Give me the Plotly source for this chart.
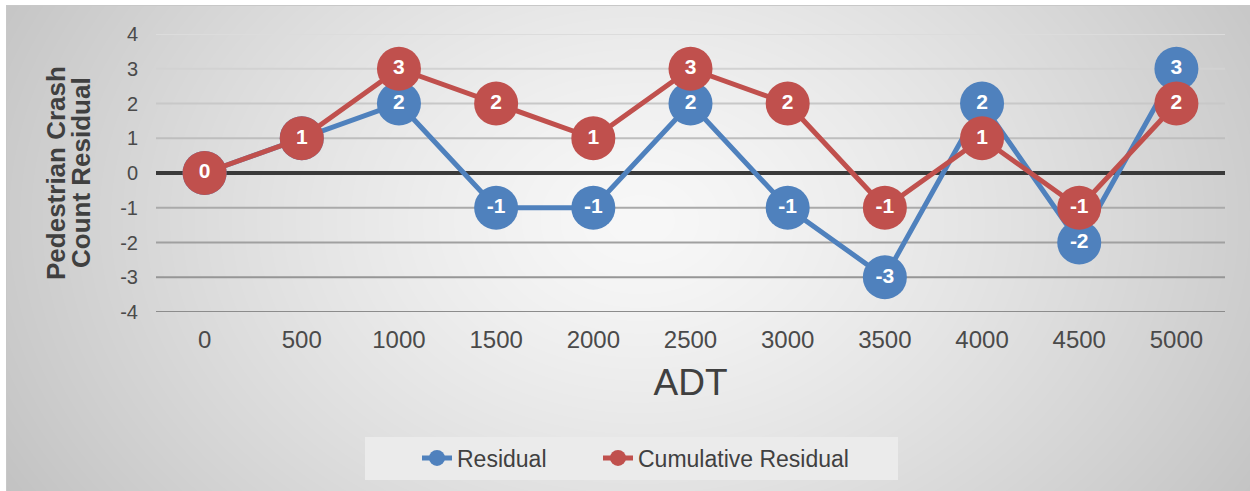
import base64
import struct
import zlib

import numpy as np
import plotly.graph_objects as go

# ---- data ----
adt = ["0", "500", "1000", "1500", "2000", "2500", "3000", "3500", "4000", "4500", "5000"]
residual = [0, 1, 2, -1, -1, 2, -1, -3, 2, -2, 3]
cumulative = [0, 1, 3, 2, 1, 3, 2, -1, 1, -1, 2]
y_ticks = [-4, -3, -2, -1, 0, 1, 2, 3, 4]
y_ticktext = ["-4", "-3", "-2", "-1", "0", "1", "2", "3", "4"]

BLUE = "#4f81bd"
RED = "#c0504d"
TEXT = "#404040"
FONT = "Liberation Sans, Arial, sans-serif"

W, H = 1250, 491
M = dict(l=156, r=25, t=34, b=179)
PW = W - M["l"] - M["r"]
PH = H - M["t"] - M["b"]


def px_x(px):
    return (px - M["l"]) / PW


def px_y(py):
    return 1 - (py - M["t"]) / PH


def png_data_uri(gray):
    """Encode a 2-D uint8 array as a grayscale PNG data URI."""
    h, w = gray.shape
    raw = b"".join(b"\x00" + gray[i].tobytes() for i in range(h))

    def chunk(tag, data):
        c = struct.pack(">I", len(data)) + tag + data
        return c + struct.pack(">I", zlib.crc32(tag + data) & 0xFFFFFFFF)

    png = b"\x89PNG\r\n\x1a\n"
    png += chunk(b"IHDR", struct.pack(">IIBBBBB", w, h, 8, 0, 0, 0, 0))
    png += chunk(b"IDAT", zlib.compress(raw, 9))
    png += chunk(b"IEND", b"")
    return "data:image/png;base64," + base64.b64encode(png).decode()


# radial grey gradient for the chart panel
yy, xx = np.mgrid[0:H, 0:W].astype(float)
cx, cy = 640.0, 220.0
r = np.sqrt(((xx - cx) / 760.0) ** 2 + ((yy - cy) / 560.0) ** 2)
r = np.clip(r, 0, 1)
light, dark = 248.0, 192.0
bg = light + (dark - light) * r ** 1.3
bg[:5, :] = 255
bg[:, :6] = 255
bg[5, 6:] = 200
bg[5:, 6] = 200
bg_img = png_data_uri(bg.astype(np.uint8))

fig = go.Figure()

marker_font = dict(color="white", size=21, family=FONT, weight="bold")
fig.add_trace(go.Scatter(
    x=adt, y=residual, name="Residual",
    mode="lines+markers+text",
    line=dict(color=BLUE, width=5),
    marker=dict(size=44, color=BLUE),
    text=[str(v) for v in residual],
    textposition="middle center",
    textfont=marker_font,
    legend="legend",
))
fig.add_trace(go.Scatter(
    x=adt, y=cumulative, name="Cumulative Residual",
    mode="lines+markers+text",
    line=dict(color=RED, width=5),
    marker=dict(size=44, color=RED),
    text=[str(v) for v in cumulative],
    textposition="middle center",
    textfont=marker_font,
    legend="legend2",
))

# horizontal gridlines, shading darker toward the bottom
shapes = []
for v in y_ticks:
    if v == 0:
        continue
    g = int(round(220 - (4 - v) * (220 - 140) / 8))
    shapes.append(dict(
        type="line", xref="paper", yref="y", x0=0, x1=1, y0=v, y1=v,
        line=dict(color=f"rgb({g},{g},{g})", width=2), layer="below",
    ))
shapes.append(dict(
    type="line", xref="paper", yref="y", x0=0, x1=1, y0=0, y1=0,
    line=dict(color="#3a3a3a", width=4), layer="below",
))
# legend panel
shapes.append(dict(
    type="rect", xref="paper", yref="paper",
    x0=px_x(365), x1=px_x(898), y0=px_y(480), y1=px_y(437),
    fillcolor="#ebebeb", line=dict(width=0), layer="below",
))

# two-line rotated y-axis title
annotations = [
    dict(text="Pedestrian Crash", x=px_x(56), y=0.5, xref="paper", yref="paper",
         textangle=-90, showarrow=False, xanchor="center", yanchor="middle",
         font=dict(size=26, color=TEXT, family=FONT, weight="bold")),
    dict(text="Count Residual", x=px_x(81), y=0.5, xref="paper", yref="paper",
         textangle=-90, showarrow=False, xanchor="center", yanchor="middle",
         font=dict(size=26, color=TEXT, family=FONT, weight="bold")),
]

legend_common = dict(
    orientation="h", y=px_y(458), xanchor="left", yanchor="middle",
    bgcolor="rgba(0,0,0,0)", borderwidth=0,
    font=dict(size=23, color=TEXT),
)

fig.update_layout(
    width=W, height=H,
    margin=M,
    paper_bgcolor="white",
    plot_bgcolor="rgba(0,0,0,0)",
    font=dict(family=FONT, color=TEXT),
    showlegend=True,
    shapes=shapes,
    annotations=annotations,
    images=[dict(
        source=bg_img, xref="paper", yref="paper",
        x=-M["l"] / PW, y=1 + M["t"] / PH,
        sizex=W / PW, sizey=H / PH,
        xanchor="left", yanchor="top", sizing="stretch", layer="below",
    )],
    legend=dict(x=px_x(417), **legend_common),
    legend2=dict(x=px_x(598), **legend_common),
    xaxis=dict(
        type="category", range=[-0.5, 10.5],
        showgrid=False, zeroline=False, showline=False, ticks="",
        tickfont=dict(size=24, color="#4a4a4a"),
        ticklabelstandoff=11,
        title=dict(text="ADT", font=dict(size=37, color=TEXT), standoff=17),
    ),
    yaxis=dict(
        range=[-4, 4], tickvals=y_ticks, ticktext=y_ticktext,
        showgrid=False, zeroline=False, showline=False, ticks="",
        tickfont=dict(size=20, color="#4a4a4a"),
        ticklabelstandoff=17,
        title=dict(text=""),
    ),
)

fig.write_html("out.html")
